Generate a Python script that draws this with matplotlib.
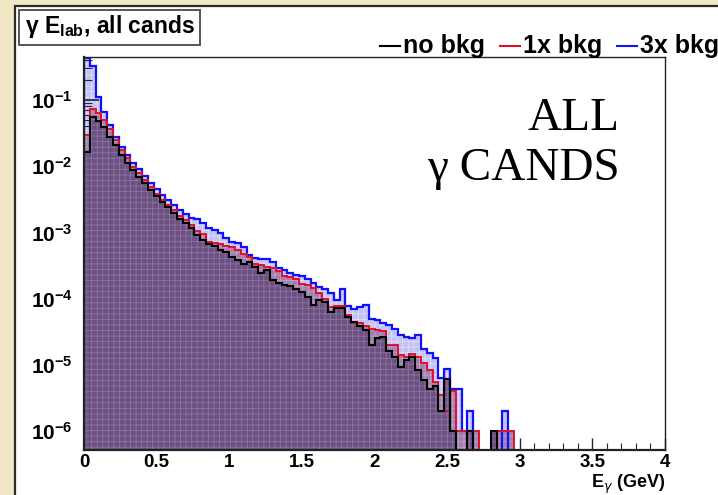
import numpy as np
import matplotlib
matplotlib.use("Agg")
import matplotlib.pyplot as plt
from matplotlib.patches import Rectangle
from matplotlib.lines import Line2D
from matplotlib.ticker import LogLocator, MultipleLocator, NullFormatter

plt.rcParams['font.family'] = ['Liberation Sans', 'DejaVu Sans']
plt.rcParams['mathtext.fontset'] = 'custom'
plt.rcParams['mathtext.rm'] = 'Liberation Sans'
plt.rcParams['mathtext.bf'] = 'Liberation Sans:bold'
plt.rcParams['hatch.linewidth'] = 0.6

# E_gamma histogram, 100 bins of 0.04 GeV from 0 to 4 GeV (normalised)
edges = np.linspace(0.0, 4.0, 101)

no_bkg = [1.66e-2, 5.6e-2, 4.9e-2, 3.95e-2, 2.8e-2, 2.1e-2, 1.48e-2, 1.13e-2, 8.7e-3, 6.9e-3,
          5.5e-3, 4.4e-3, 3.5e-3, 2.9e-3, 2.45e-3, 1.95e-3, 1.6e-3, 1.37e-3, 1.15e-3, 9.1e-4,
          7.8e-4, 6.7e-4, 6.3e-4, 5.4e-4, 5.1e-4, 4.3e-4, 3.8e-4, 3.3e-4, 3.6e-4, 3.0e-4,
          2.45e-4, 2.7e-4, 1.9e-4, 1.74e-4, 1.62e-4, 1.55e-4, 1.38e-4, 1.26e-4, 1.07e-4, 7.9e-5,
          9.5e-5, 8.9e-5, 6.3e-5, 7.1e-5, 7.1e-5, 5.2e-5, 4.4e-5, 3.8e-5, 3.4e-5, 2.0e-5,
          2.5e-5, 2.6e-5, 1.6e-5, 1.3e-5, 9.3e-6, 1.2e-5, 1.3e-5, 8.3e-6, 5.9e-6, 4.3e-6,
          4.7e-6, 2.0e-6, 6.0e-6, 1.0e-6, 0, 0, 1.0e-6, 0, 0, 0,
          1.0e-6, 0, 0, 0, 0, 0, 0, 0, 0, 0,
          0, 0, 0, 0, 0, 0, 0, 0, 0, 0,
          0, 0, 0, 0, 0, 0, 0, 0, 0, 0]

bkg_1x = [2.95e-2, 7.2e-2, 6.3e-2, 5.0e-2, 3.7e-2, 2.5e-2, 1.76e-2, 1.32e-2, 9.9e-3, 7.8e-3,
          6.2e-3, 4.9e-3, 3.8e-3, 3.1e-3, 2.6e-3, 2.2e-3, 1.8e-3, 1.54e-3, 1.3e-3, 1.05e-3,
          9.6e-4, 7.2e-4, 7.0e-4, 6.7e-4, 6.3e-4, 6.0e-4, 5.4e-4, 4.8e-4, 4.2e-4, 3.3e-4,
          3.2e-4, 3.0e-4, 2.9e-4, 2.6e-4, 2.2e-4, 2.1e-4, 2.0e-4, 1.66e-4, 1.62e-4, 1.45e-4,
          1.23e-4, 1.0e-4, 7.4e-5, 7.6e-5, 7.8e-5, 5.6e-5, 4.3e-5, 4.3e-5, 3.8e-5, 3.5e-5,
          3.4e-5, 3.2e-5, 2.0e-5, 2.0e-5, 1.4e-5, 1.3e-5, 1.45e-5, 1.3e-5, 1.05e-5, 8.3e-6,
          5.5e-6, 3.5e-6, 2.0e-6, 4.0e-6, 1.0e-6, 1.0e-6, 1.0e-6, 1.0e-6, 0, 0,
          0, 1.0e-6, 1.0e-6, 1.0e-6, 0, 0, 0, 0, 0, 0,
          0, 0, 0, 0, 0, 0, 0, 0, 0, 0,
          0, 0, 0, 0, 0, 0, 0, 0, 0, 0]

bkg_3x = [4.3e-1, 3.3e-1, 1.12e-1, 6.7e-2, 4.2e-2, 2.8e-2, 1.97e-2, 1.48e-2, 1.13e-2, 9.0e-3,
          7.1e-3, 5.6e-3, 4.5e-3, 3.7e-3, 3.1e-3, 2.6e-3, 2.2e-3, 1.9e-3, 1.63e-3, 1.6e-3,
          1.38e-3, 1.15e-3, 1.1e-3, 9.8e-4, 8.1e-4, 7.2e-4, 7.0e-4, 6.0e-4, 4.6e-4, 4.1e-4,
          3.9e-4, 3.9e-4, 3.6e-4, 2.9e-4, 2.7e-4, 2.4e-4, 2.3e-4, 2.2e-4, 2.0e-4, 1.74e-4,
          1.48e-4, 1.38e-4, 1.2e-4, 9.5e-5, 1.38e-4, 7.6e-5, 6.9e-5, 7.4e-5, 7.9e-5, 5.0e-5,
          4.8e-5, 4.3e-5, 4.0e-5, 3.5e-5, 2.8e-5, 2.6e-5, 2.5e-5, 2.8e-5, 1.75e-5, 1.5e-5,
          1.26e-5, 6.3e-6, 8.5e-6, 4.3e-6, 4.3e-6, 1.0e-6, 2.0e-6, 0, 0, 0,
          0, 0, 2.0e-6, 0, 0, 0, 0, 0, 0, 0,
          0, 0, 0, 0, 0, 0, 0, 0, 0, 0,
          0, 0, 0, 0, 0, 0, 0, 0, 0, 0]

fig = plt.figure(figsize=(7.18, 4.95), dpi=100)
fig.patch.set_facecolor('#f2e7c5')
W, H = 718.0, 495.0

# white ROOT canvas
fig.patches.append(Rectangle((15 / W, -0.1), 1.1, 1 - 6 / H + 0.1, transform=fig.transFigure,
                             facecolor='white', edgecolor='#2a2a2a', lw=1.6, zorder=0))

ax = fig.add_axes([84 / W, 1 - 450 / H, (665 - 84) / W, (450 - 57) / H])
ax.set_zorder(2)
ax.set_yscale('log')
ax.set_xlim(0, 4)
ax.set_ylim(5.16e-7, 0.447)

base = 1e-9
ax.stairs(bkg_3x, edges, baseline=base, fill=True, facecolor='#c2c2f6', edgecolor='#dedefb',
          hatch='+++', lw=0, zorder=1)
ax.stairs(bkg_1x, edges, baseline=base, fill=True, facecolor='#a27fae', edgecolor='#bba2c4',
          hatch='+++', lw=0, zorder=2)
ax.stairs(no_bkg, edges, baseline=base, fill=True, facecolor='#6c5082', edgecolor='#8a74a0',
          hatch='+++', lw=0, zorder=3)
ax.stairs(bkg_3x, edges, baseline=base, color='#1010ff', lw=1.6, zorder=4)
ax.stairs(bkg_1x, edges, baseline=base, color='#e0102a', lw=1.4, zorder=5)
ax.stairs(no_bkg, edges, baseline=base, color='black', lw=1.5, zorder=6)

for s in ax.spines.values():
    s.set_color('#222222')
    s.set_linewidth(1.0)
    s.set_zorder(10)
ax.spines['left'].set_linewidth(1.6)
ax.spines['bottom'].set_linewidth(1.6)

ax.set_yticks([1e-6, 1e-5, 1e-4, 1e-3, 1e-2, 1e-1])
ax.set_yticklabels([r'$\mathbf{10^{-6}}$', r'$\mathbf{10^{-5}}$', r'$\mathbf{10^{-4}}$',
                    r'$\mathbf{10^{-3}}$', r'$\mathbf{10^{-2}}$', r'$\mathbf{10^{-1}}$'])
ax.yaxis.set_minor_locator(LogLocator(base=10, subs=np.arange(2, 10)))
ax.yaxis.set_minor_formatter(NullFormatter())
ax.set_xticks([0, 0.5, 1, 1.5, 2, 2.5, 3, 3.5, 4])
ax.set_xticklabels(['0', '0.5', '1', '1.5', '2', '2.5', '3', '3.5', '4'])
ax.xaxis.set_minor_locator(MultipleLocator(0.1))
ax.tick_params(axis='both', which='both', direction='in', top=False, right=False,
               color='#222244')
ax.tick_params(axis='y', which='major', length=11, width=1.2, pad=8, labelsize=15)
ax.tick_params(axis='y', which='minor', length=6, width=0.8)
ax.tick_params(axis='x', which='major', length=9, width=1.0, pad=3, labelsize=13.5)
ax.tick_params(axis='x', which='minor', length=5, width=0.8)
for lab in ax.get_xticklabels():
    lab.set_fontweight('bold')

ax.set_xlabel(r'E$_{\gamma}$ (GeV)', fontsize=13, fontweight='bold', ha='right', va='top')
ax.xaxis.set_label_coords(1.0, -0.058)

# title box
fig.patches.append(Rectangle((19 / W, 1 - 45 / H), 181 / W, 35 / H, transform=fig.transFigure,
                             facecolor='white', edgecolor='#555555', lw=1.4, zorder=5))
fig.text(25 / W, 1 - 26 / H, r'γ E$_{\mathbf{lab}}$, all cands', fontsize=16.5,
         fontweight='bold', va='center', ha='left', zorder=6)

# legend
legend_items = [('no bkg', 'black', 380), ('1x bkg', '#e0102a', 500), ('3x bkg', '#1010ff', 617)]
for name, col, x0 in legend_items:
    fig.add_artist(Line2D([x0 / W, (x0 + 20) / W], [1 - 46 / H, 1 - 46 / H], color=col, lw=1.5,
                          transform=fig.transFigure))
    fig.text((x0 + 23) / W, 1 - 46 / H, name, fontsize=18, fontweight='bold',
             va='center', ha='left')

# annotation
fig.text(620 / W, 1 - 130 / H, 'ALL', family='Liberation Serif', fontsize=34,
         ha='right', va='baseline', zorder=5)
fig.text(620 / W, 1 - 180 / H, 'γ CANDS', family='Liberation Serif', fontsize=34,
         ha='right', va='baseline', zorder=5)

fig.savefig('out.png', dpi=100, facecolor=fig.get_facecolor())
